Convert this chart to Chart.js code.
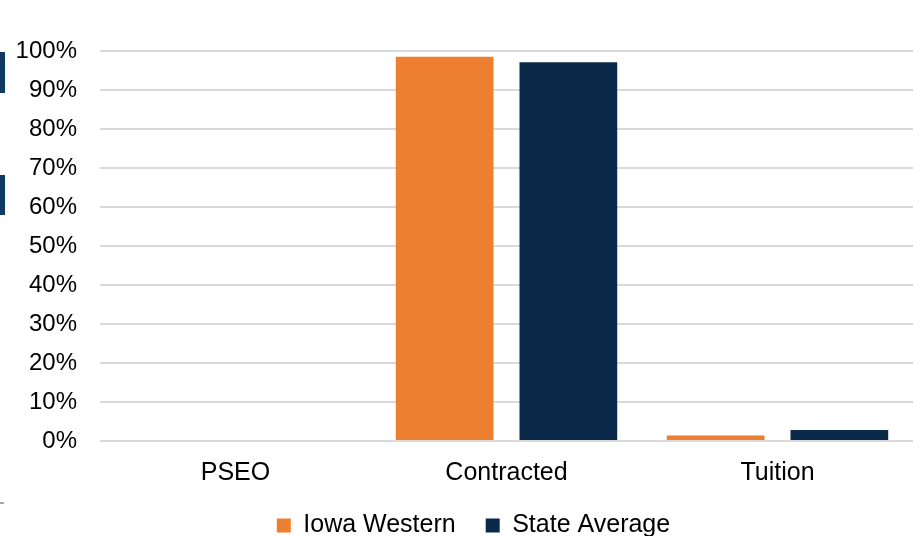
<!DOCTYPE html>
<html>
<head>
<meta charset="utf-8">
<script src="https://cdn.jsdelivr.net/npm/chart.js@4.4.1/dist/chart.umd.min.js"></script>
<style>
  html, body { margin: 0; padding: 0; background: #fff; }
  #wrap { position: relative; width: 913px; height: 536px; overflow: hidden; }
  .edge { position: absolute; left: 0; width: 5px; background: #0f3b60; }
</style>
</head>
<body>
<div id="wrap">
  <canvas id="chart" width="913" height="536"></canvas>
  <!-- bits of the neighbouring chart cut off at the left edge -->
  <div class="edge" style="top:52px;height:41px"></div>
  <div class="edge" style="top:175px;height:40px"></div>
  <div class="edge" style="top:502px;height:2px;width:4px;background:#a6a6a6"></div>
</div>
<script>
// categories and series
const categories = ['PSEO', 'Contracted', 'Tuition'];
const iowaWestern = [0, 98.5, 1.4];
const stateAverage = [0, 97.1, 2.8];
const yTicks = [0, 10, 20, 30, 40, 50, 60, 70, 80, 90, 100];

// nudge the legend a little to the right, like the original
const legendShift = {
    id: 'legendShift',
    afterLayout(chart) {
        if (chart.legend) {
            chart.legend.left += 16;
            chart.legend.right += 16;
        }
    }
};

const ctx = document.getElementById('chart').getContext('2d');

new Chart(ctx, {
    type: 'bar',
    data: {
        labels: categories,
        datasets: [
            {
                label: 'Iowa Western',
                data: iowaWestern,
                backgroundColor: '#ee7f30'
            },
            {
                label: 'State Average',
                data: stateAverage,
                backgroundColor: '#0b2a4a'
            }
        ]
    },
    options: {
        responsive: false,
        animation: false,
        categoryPercentage: 0.913,
        barPercentage: 0.79,
        layout: {
            padding: { top: 51, right: -2, bottom: -12, left: 0 }
        },
        plugins: {
            legend: {
                position: 'bottom',
                labels: {
                    font: { family: 'Liberation Sans, Arial', size: 25 },
                    color: '#000',
                    boxWidth: 14,
                    boxHeight: 14,
                    padding: 30
                }
            },
            tooltip: { enabled: false }
        },
        scales: {
            x: {
                grid: { display: false },
                border: { display: false },
                ticks: {
                    font: { family: 'Liberation Sans, Arial', size: 25 },
                    color: '#000',
                    padding: 9
                },
                afterFit: (scale) => { scale.height = 42; }
            },
            y: {
                min: 0,
                max: 100,
                afterBuildTicks: (scale) => {
                    scale.ticks = yTicks.map(v => ({ value: v }));
                },
                grid: {
                    color: '#d9d9d9',
                    lineWidth: 2,
                    drawTicks: false
                },
                border: { display: false },
                ticks: {
                    font: { family: 'Liberation Sans, Arial', size: 24 },
                    color: '#000',
                    padding: 23,
                    callback: (v) => v + '%'
                },
                afterFit: (scale) => { scale.width = 100; }
            }
        }
    },
    plugins: [legendShift]
});
</script>
</body>
</html>
